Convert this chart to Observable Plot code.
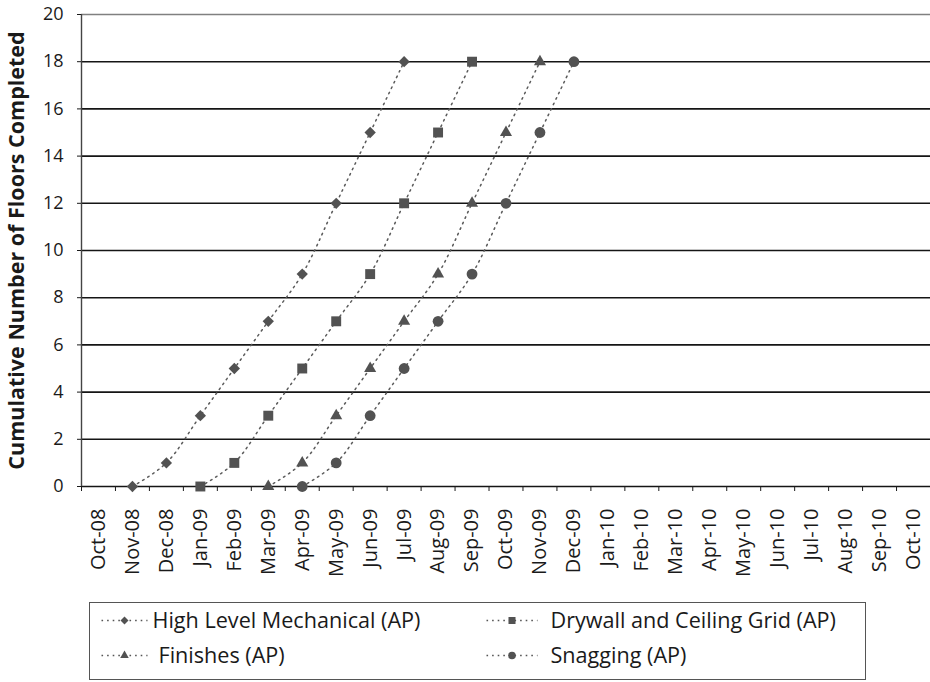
<!DOCTYPE html>
<html><head><meta charset="utf-8">
<script src="https://cdn.jsdelivr.net/npm/d3@7"></script>
<script src="https://cdn.jsdelivr.net/npm/@observablehq/plot@0.6"></script>
<style>
body{margin:0;background:#fff;font-family:"Open Sans",sans-serif;}
#legend{margin-left:89px;margin-top:6px;width:777px;height:78px;border:1.5px solid #555;box-sizing:border-box;}
#legend svg{display:block;}
</style></head><body><div id="chart"></div><div id="legend"></div>
<script>
const months = ["Oct-08","Nov-08","Dec-08","Jan-09","Feb-09","Mar-09","Apr-09","May-09","Jun-09","Jul-09","Aug-09","Sep-09","Oct-09","Nov-09","Dec-09","Jan-10","Feb-10","Mar-10","Apr-10","May-10","Jun-10","Jul-10","Aug-10","Sep-10","Oct-10"];
const yTicks = [0,2,4,6,8,10,12,14,16,18,20];
const yLabel = "Cumulative Number of Floors Completed";

const hlmMonths = ["Nov-08","Dec-08","Jan-09","Feb-09","Mar-09","Apr-09","May-09","Jun-09","Jul-09"];
const hlmFloors = [0,1,3,5,7,9,12,15,18];
const dryMonths = ["Jan-09","Feb-09","Mar-09","Apr-09","May-09","Jun-09","Jul-09","Aug-09","Sep-09"];
const dryFloors = [0,1,3,5,7,9,12,15,18];
const finMonths = ["Mar-09","Apr-09","May-09","Jun-09","Jul-09","Aug-09","Sep-09","Oct-09","Nov-09"];
const finFloors = [0,1,3,5,7,9,12,15,18];
const snagMonths = ["Apr-09","May-09","Jun-09","Jul-09","Aug-09","Sep-09","Oct-09","Nov-09","Dec-09"];
const snagFloors = [0,1,3,5,7,9,12,15,18];

const seriesNames = ["High Level Mechanical (AP)","Drywall and Ceiling Grid (AP)","Finishes (AP)","Snagging (AP)"];

const ink = "#525252";
const series = [
  {name: seriesNames[0], months: hlmMonths, floors: hlmFloors, symbol: "diamond2", r: 5.1, d3sym: d3.symbolDiamond2},
  {name: seriesNames[1], months: dryMonths, floors: dryFloors, symbol: "square", r: 5.6, d3sym: d3.symbolSquare},
  {name: seriesNames[2], months: finMonths, floors: finFloors, symbol: "triangle", r: 4.5, d3sym: d3.symbolTriangle},
  {name: seriesNames[3], months: snagMonths, floors: snagFloors, symbol: "circle", r: 5.4, d3sym: d3.symbolCircle}
];
const pos = m => months.indexOf(m) + 0.5;
series.forEach(s => s.rows = s.months.map((m, i) => ({x: pos(m), y: s.floors[i]})));

const marks = [
  Plot.ruleY(yTicks.filter(v => v > 0 && v < 20), {stroke: "#151515", strokeWidth: 1.6}),
  Plot.ruleY([20], {stroke: "#808080", strokeWidth: 1.6}),
  Plot.ruleY([0], {stroke: "#151515", strokeWidth: 1.4}),
  Plot.ruleX([0], {stroke: "#444", strokeWidth: 1.4}),
  Plot.axisY({ticks: yTicks, tickSize: 4, tickPadding: 14, fontSize: 18, label: null}),
  Plot.axisX({ticks: d3.range(months.length + 1), tickSize: 5, tickFormat: () => "", label: null}),
  Plot.axisX({ticks: months.map((m, i) => i + 0.5), tickFormat: v => months[Math.floor(v)], tickRotate: -90, tickSize: 0, tickPadding: 22, fontSize: 20, label: null})
];
series.forEach(s => {
  marks.push(Plot.line(s.rows, {x: "x", y: "y", curve: "catmull-rom", stroke: "#5a5a5a", strokeWidth: 1.5, strokeDasharray: "1.6,4.4"}));
});
series.forEach(s => {
  marks.push(Plot.dot(s.rows, {x: "x", y: "y", symbol: s.symbol, r: s.r, fill: ink, stroke: "none"}));
});
marks.push(Plot.text([yLabel], {text: d => d, frameAnchor: "left", textAnchor: "middle", rotate: -90, dx: -64, fontWeight: "bold", fontSize: 21.5, fill: "#1a1a1a"}));

const chart = Plot.plot({
  width: 930, height: 596,
  marginLeft: 81, marginRight: 0, marginTop: 14, marginBottom: 110,
  style: {fontFamily: "Open Sans", color: "#1a1a1a", background: "#fff", overflow: "visible"},
  x: {type: "linear", domain: [0, months.length], axis: null},
  y: {domain: [0, 20], axis: null},
  marks
});
document.getElementById("chart").appendChild(chart);

// legend
const lg = d3.select("#legend").append("svg").attr("width", 774).attr("height", 75)
  .style("font-family", "Open Sans").style("font-size", "21.6px");
const items = [
  {s: series[0], row: 0, col: 0},
  {s: series[1], row: 0, col: 1},
  {s: series[2], row: 1, col: 0},
  {s: series[3], row: 1, col: 1}
];
const rowY = [17.5, 52.5];
const colX = [{a: 11.5, b: 57.5, m: 34.5}, {a: 396.5, b: 447.5, m: 422}];
const textX = [[62.5, 460.5], [68.5, 460.5]];
items.forEach(it => {
  const y = rowY[it.row], c = colX[it.col];
  lg.append("line").attr("x1", c.a).attr("x2", c.b).attr("y1", y).attr("y2", y)
    .attr("stroke", "#555").attr("stroke-width", 1.6).attr("stroke-dasharray", "1.6,4");
  lg.append("path").attr("d", d3.symbol(it.s.d3sym, it.s.r * it.s.r * Math.PI * 0.5)())
    .attr("transform", `translate(${c.m},${y})`).attr("fill", ink);
  lg.append("text").attr("x", textX[it.row][it.col]).attr("y", y).attr("dy", "0.35em")
    .attr("fill", "#1a1a1a").text(it.s.name);
});
</script>
</body></html>
